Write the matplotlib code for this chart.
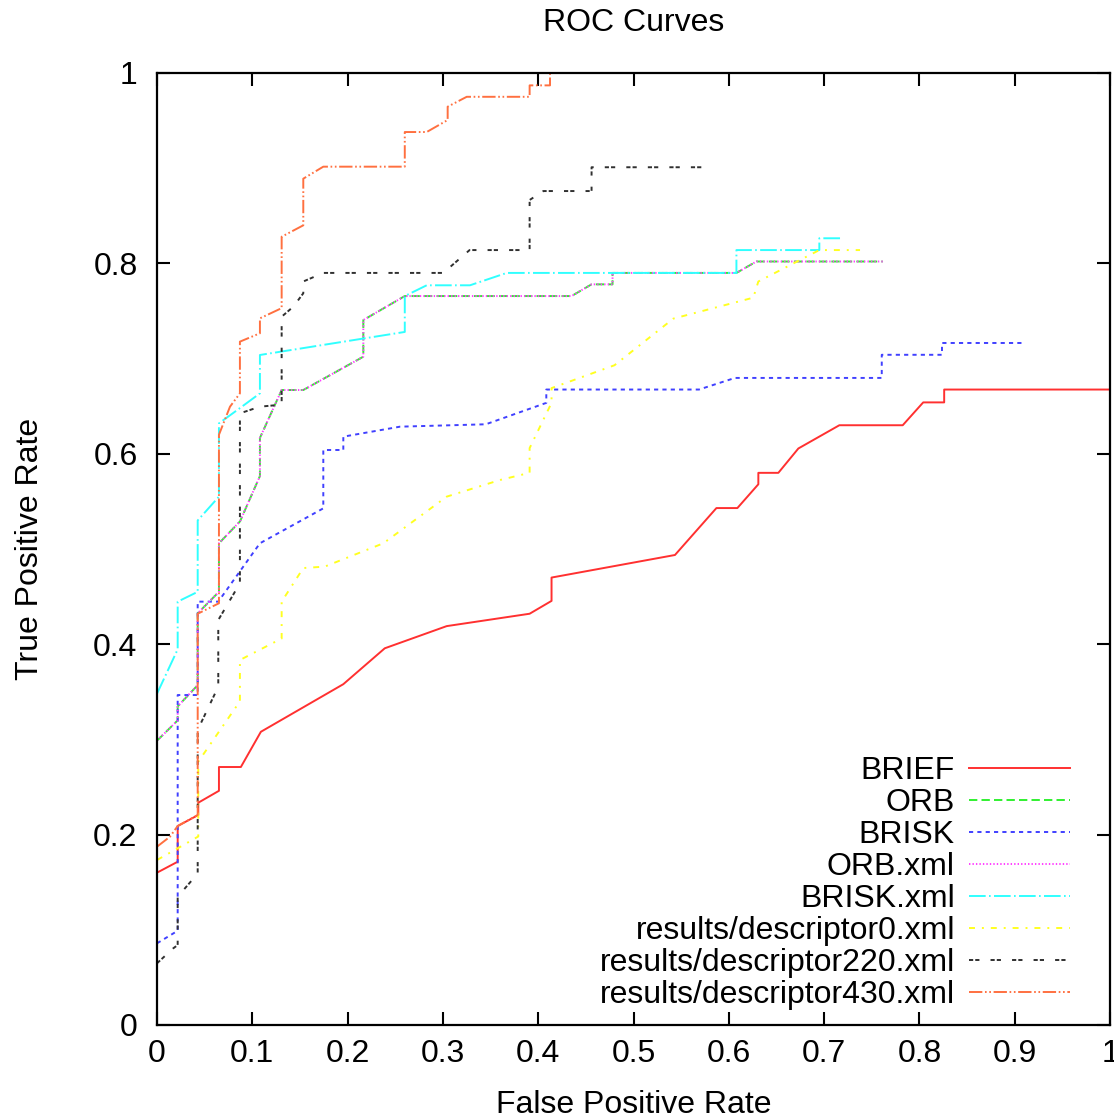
import matplotlib
matplotlib.use("Agg")
import matplotlib.pyplot as plt

plt.rcParams['font.family'] = ['Liberation Sans', 'DejaVu Sans']
plt.rcParams['lines.scale_dashes'] = False

# ROC points (false positive rate, true positive rate)
brief_fpr = [0, 0.0217, 0.0217, 0.0433, 0.0433, 0.065, 0.065, 0.088, 0.109, 0.1955, 0.239, 0.304,
             0.391, 0.414, 0.414, 0.5435, 0.587, 0.609, 0.631, 0.631, 0.652, 0.673, 0.716, 0.7825,
             0.804, 0.826, 0.826, 1.0]
brief_tpr = [0.160, 0.1715, 0.209, 0.2206, 0.2335, 0.246, 0.271, 0.271, 0.308, 0.358, 0.3957, 0.419,
             0.432, 0.4455, 0.470, 0.4937, 0.543, 0.543, 0.568, 0.58, 0.58, 0.6056, 0.630, 0.630,
             0.654, 0.654, 0.6675, 0.6675]

orb_fpr = [0, 0.0217, 0.0217, 0.0427, 0.0427, 0.065, 0.065, 0.0871, 0.108, 0.108, 0.1308, 0.1535,
           0.2165, 0.2165, 0.260, 0.435, 0.456, 0.478, 0.478, 0.608, 0.629, 0.7615]
orb_tpr = [0.2986, 0.320, 0.3347, 0.357, 0.4325, 0.455, 0.506, 0.529, 0.5766, 0.6167, 0.667, 0.667,
           0.702, 0.7405, 0.7657, 0.7657, 0.778, 0.778, 0.790, 0.790, 0.802, 0.802]

brisk_fpr = [0, 0.0217, 0.0217, 0.0427, 0.0427, 0.0643, 0.108, 0.1745, 0.1745, 0.1955, 0.1955, 0.255,
             0.345, 0.4085, 0.4085, 0.5687, 0.6065, 0.7605, 0.7605, 0.8237, 0.8237, 0.908]
brisk_tpr = [0.0858, 0.099, 0.3466, 0.3466, 0.4447, 0.4447, 0.506, 0.5427, 0.604, 0.604, 0.618, 0.6285,
             0.631, 0.6535, 0.6675, 0.6675, 0.6797, 0.6797, 0.704, 0.704, 0.7164, 0.7164]

# ORB.xml gives the same curve as ORB
orbxml_fpr = list(orb_fpr)
orbxml_tpr = list(orb_tpr)

briskxml_fpr = [0, 0.0217, 0.0217, 0.0427, 0.0427, 0.065, 0.065, 0.087, 0.108, 0.108, 0.260, 0.260,
                0.283, 0.3284, 0.367, 0.608, 0.608, 0.695, 0.695, 0.7167]
briskxml_tpr = [0.348, 0.3946, 0.4447, 0.455, 0.530, 0.555, 0.632, 0.648, 0.6635, 0.7038, 0.728, 0.7657,
                0.777, 0.777, 0.790, 0.790, 0.814, 0.814, 0.8264, 0.8264]

d0_fpr = [0, 0.0217, 0.0433, 0.0433, 0.087, 0.087, 0.1308, 0.1308, 0.1535, 0.176, 0.2375, 0.304, 0.36,
          0.391, 0.391, 0.414, 0.414, 0.48, 0.5418, 0.6257, 0.631, 0.695, 0.7377]
d0_tpr = [0.1733, 0.1856, 0.198, 0.2766, 0.34, 0.3834, 0.406, 0.4447, 0.480, 0.4815, 0.506, 0.555, 0.5725,
          0.580, 0.606, 0.6535, 0.669, 0.693, 0.742, 0.764, 0.781, 0.814, 0.814]

d220_fpr = [0, 0.017, 0.0217, 0.0217, 0.0427, 0.0427, 0.0643, 0.0643, 0.087, 0.087, 0.108, 0.124,
            0.1308, 0.1308, 0.143, 0.1535, 0.1535, 0.1745, 0.3004, 0.328, 0.391, 0.391, 0.4054,
            0.456, 0.456, 0.582]
d220_tpr = [0.0648, 0.0805, 0.084, 0.1348, 0.159, 0.31, 0.3554, 0.4254, 0.464, 0.6425, 0.6495, 0.651,
            0.651, 0.744, 0.7545, 0.7686, 0.781, 0.790, 0.790, 0.814, 0.814, 0.8666, 0.876,
            0.876, 0.901, 0.901]

d430_fpr = [0, 0.0136, 0.0217, 0.0427, 0.0427, 0.065, 0.065, 0.0766, 0.087, 0.087, 0.108, 0.108,
            0.1308, 0.1308, 0.1535, 0.1535, 0.1745, 0.260, 0.260, 0.283, 0.305, 0.305, 0.325,
            0.391, 0.391, 0.4124, 0.4124]
d430_tpr = [0.1873, 0.1978, 0.209, 0.2206, 0.432, 0.443, 0.620, 0.6495, 0.6635, 0.7178, 0.7266, 0.7423,
            0.753, 0.828, 0.840, 0.889, 0.9016, 0.9016, 0.938, 0.938, 0.9506, 0.9646, 0.975,
            0.975, 0.987, 0.987, 1.0]

labels = ["BRIEF", "ORB", "BRISK", "ORB.xml", "BRISK.xml",
          "results/descriptor0.xml", "results/descriptor220.xml", "results/descriptor430.xml"]
curves = [(brief_fpr, brief_tpr), (orb_fpr, orb_tpr), (brisk_fpr, brisk_tpr),
          (orbxml_fpr, orbxml_tpr), (briskxml_fpr, briskxml_tpr), (d0_fpr, d0_tpr),
          (d220_fpr, d220_tpr), (d430_fpr, d430_tpr)]
colors = ["#ff3030", "#30f030", "#4040ff", "#ff40ff", "#30ffff", "#ffff20", "#303030", "#ff7040"]
dashes = [(None, None), (0, (6, 3)), (0, (3, 3)), (0, (1, 1.5)), (0, (12, 2.4, 1.2, 2.4)),
          (0, (4.3, 5, 1.4, 5)), (0, (3, 1.5, 3, 8)), (0, (9.6, 1.9, 1.2, 1.9, 1.2, 1.9))]

fs = 23

fig = plt.figure(figsize=(11.14, 11.2), dpi=100)
ax = fig.add_axes([157 / 1114, 1 - 1025 / 1120, 953 / 1114, 952 / 1120])

for (fx, ty), lab, col, ds in zip(curves, labels, colors, dashes):
    if ds[0] is None:
        ax.plot(fx, ty, color=col, lw=1.4, ls='-', label=lab)
    else:
        ax.plot(fx, ty, color=col, lw=1.4, ls=ds, label=lab)

ax.set_xlim(0, 1)
ax.set_ylim(0, 1)
xt = [i / 10 for i in range(11)]
yt = [i / 5 for i in range(6)]
ax.set_xticks(xt)
ax.set_xticklabels(["0", "0.1", "0.2", "0.3", "0.4", "0.5", "0.6", "0.7", "0.8", "0.9", "1"])
ax.set_yticks(yt)
ax.set_yticklabels(["0", "0.2", "0.4", "0.6", "0.8", "1"])
ax.tick_params(direction='in', length=9.5, width=1.5, top=True, right=True, labelsize=fs)
ax.tick_params(axis='x', pad=10)
ax.tick_params(axis='y', pad=14)
for s in ax.spines.values():
    s.set_linewidth(1.6)

ax.set_title("ROC Curves", fontsize=fs, pad=30)
ax.set_xlabel("False Positive Rate", fontsize=fs)
ax.set_ylabel("True Positive Rate", fontsize=fs)
ax.xaxis.set_label_coords(0.5, -0.068)
ax.yaxis.set_label_coords(-0.118, 0.5)

ax.legend(loc='lower right', bbox_to_anchor=(0.958, 0.016), frameon=False, markerfirst=False,
          fontsize=fs, handlelength=3.15, handletextpad=0.45, labelspacing=0.06, borderpad=0,
          borderaxespad=0)

fig.savefig("out.png", dpi=100)
